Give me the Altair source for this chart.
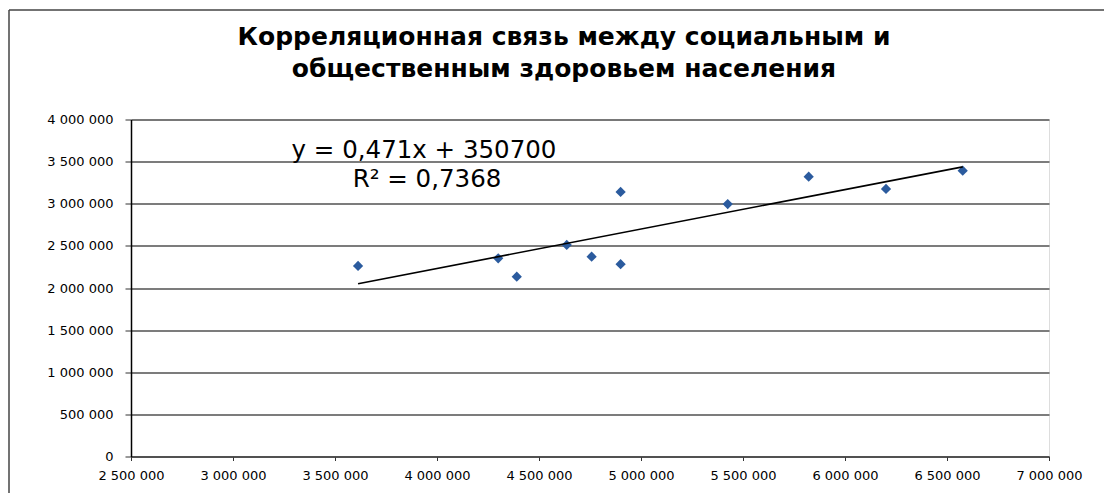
import altair as alt
import pandas as pd

# Data
x_vals = [3613000, 4300000, 4391000, 4636000, 4758000, 4900000, 4900000,
          5425000, 5822000, 6201000, 6577000]
y_vals = [2262000, 2353000, 2135000, 2511000, 2372000, 2282000, 3140000,
          2997000, 3321000, 3176000, 3393000]
title_lines = ["Корреляционная связь между социальным и",
               "общественным здоровьем населения"]
eq_text = "y = 0,471x + 350700"
r2_text = "R² = 0,7368"

df = pd.DataFrame({"x": x_vals, "y": y_vals})

W, H = 918, 337
label_expr = "replace(format(datum.value, ',d'), /,/g, ' ')"

xs = alt.Scale(domain=[2500000, 7000000], nice=False, zero=False)
ys = alt.Scale(domain=[0, 4000000], nice=False)

base = alt.Chart(df)

points = base.mark_point(shape="diamond", filled=True, size=105,
                         color="#2B5B9E", opacity=1).encode(
    x=alt.X("x:Q", scale=xs, axis=alt.Axis(
        title=None, values=list(range(2500000, 7000001, 500000)),
        labelExpr=label_expr, labelFont="DejaVu Sans", labelFontSize=13,
        labelColor="#000", tickSize=4, tickColor="#333", domainColor="#444",
        domainWidth=1.5, labelPadding=9, grid=False, labelOverlap=False,
        labelBound=False, labelFlush=False)),
    y=alt.Y("y:Q", scale=ys, axis=alt.Axis(
        title=None, values=list(range(0, 4000001, 500000)),
        labelExpr=label_expr, labelFont="DejaVu Sans", labelFontSize=13,
        labelColor="#000", tickSize=6, tickColor="#333", domainColor="#000",
        domainWidth=1.5, labelPadding=12, grid=True, gridColor="#505050",
        gridWidth=1.3, gridOpacity=1, labelOverlap=False)),
)

trend = base.transform_regression("x", "y").mark_line(
    color="#000", strokeWidth=1.6).encode(
    x=alt.X("x:Q", scale=xs), y=alt.Y("y:Q", scale=ys))


def text_layer(t, x, y, size, weight="normal", font="DejaVu Sans"):
    return alt.Chart(pd.DataFrame({"t": [t]})).mark_text(
        font=font, fontSize=size, fontWeight=weight, color="#000",
        align="center", baseline="alphabetic").encode(
        text="t:N", x=alt.value(x), y=alt.value(y))


eq = text_layer(eq_text, 293, 38.5, 24.5)
r2 = text_layer(r2_text, 296, 67.5, 24.5)
t1 = text_layer(title_lines[0], 433, -74.5, 25, "bold")
t2 = text_layer(title_lines[1], 433, -42.5, 25, "bold")

frame = pd.DataFrame({"k": [0]})
left_border = alt.Chart(frame).mark_rule(color="#444", strokeWidth=1.5).encode(
    x=alt.value(-122), y=alt.value(-109.5), y2=alt.value(H + 40))
top_border = alt.Chart(frame).mark_rule(color="#444", strokeWidth=1.5).encode(
    x=alt.value(-122), x2=alt.value(W + 60), y=alt.value(-109.5))

chart = alt.layer(points, trend, eq, r2, t1, t2, left_border, top_border).properties(
    width=W, height=H,
    padding={"left": 123, "top": 111.5, "right": 55, "bottom": 36},
    autosize=alt.AutoSizeParams(type="none"),
).configure_view(stroke=None).configure(background="white")

chart.save("out.html", embed_options={"renderer": "svg", "actions": False})
